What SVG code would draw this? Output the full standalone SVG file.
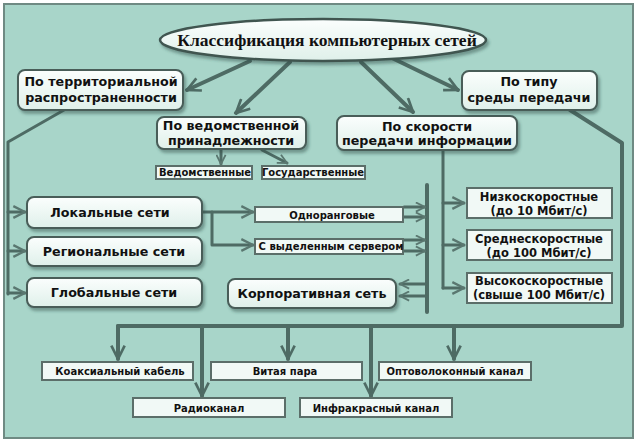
<svg xmlns="http://www.w3.org/2000/svg" width="639" height="444" viewBox="0 0 639 444">
<style>
.bg{fill:#a8d5c9;stroke:#6f8a83;stroke-width:2}
.rb{fill:url(#gf);stroke:#485d58;stroke-width:2;filter:url(#sh)}
.sb{fill:#f1f9f6;stroke:#5b6e69;stroke-width:2}
.t{font-family:"DejaVu Sans",Verdana,sans-serif;font-weight:bold;fill:#111;text-anchor:middle}
.t13{font-size:12.7px}
.t11{font-size:11.5px}
.t10{font-size:10px}
.ln{fill:none;stroke:#4e6b64;stroke-linecap:round;stroke-linejoin:round}
.w4{stroke-width:4}
.w3{stroke-width:3}
</style>
<defs>
<linearGradient id="gf" x1="0" y1="0" x2="0" y2="1">
<stop offset="0" stop-color="#fbfefd"/>
<stop offset="1" stop-color="#dff0ea"/>
</linearGradient>
<filter id="sh" x="-10%" y="-20%" width="120%" height="150%">
<feDropShadow dx="2" dy="3" stdDeviation="1.5" flood-color="#2f4a44" flood-opacity="0.45"/>
</filter>
<marker id="ab" viewBox="0 0 12 12" refX="11" refY="6" markerWidth="16" markerHeight="16" markerUnits="userSpaceOnUse" orient="auto">
<path d="M1,1 L11,6 L1,11" fill="none" stroke="#4e6b64" stroke-width="2"/>
</marker>
<marker id="am" viewBox="0 0 12 12" refX="11" refY="6" markerWidth="14" markerHeight="14" markerUnits="userSpaceOnUse" orient="auto">
<path d="M1,1 L11,6 L1,11" fill="none" stroke="#5a7770" stroke-width="2"/>
</marker>
<marker id="as" viewBox="0 0 12 12" refX="11" refY="6" markerWidth="11" markerHeight="11" markerUnits="userSpaceOnUse" orient="auto">
<path d="M1,1 L11,6 L1,11" fill="none" stroke="#5a7770" stroke-width="2"/>
</marker>
</defs>
<rect x="0" y="0" width="639" height="444" fill="#ffffff"/>
<rect class="bg" x="4" y="4" width="629" height="434"/>

<g id="connectors">
<path class="ln w4" d="M250,61 L187,90" marker-end="url(#ab)"/>
<path class="ln w4" d="M290,62 L236,113" marker-end="url(#ab)"/>
<path class="ln w4" d="M361,62 L413,112" marker-end="url(#ab)"/>
<path class="ln w4" d="M392,58 L458,90" marker-end="url(#ab)"/>
<path class="ln w3" d="M221,149 L221,164" marker-end="url(#as)"/>
<path class="ln w3" d="M262,150 L287,163" marker-end="url(#as)"/>
<path class="ln w3" d="M64,110 L8,142 L8,294"/>
<path class="ln w3" d="M8,212 L25,212" marker-end="url(#am)"/>
<path class="ln w3" d="M8,251 L25,251" marker-end="url(#am)"/>
<path class="ln w3" d="M8,293 L25,293" marker-end="url(#am)"/>
<path class="ln w3" d="M202,212 L253,212" marker-end="url(#am)"/>
<path class="ln w3" d="M212,212 L212,245 L253,245" marker-end="url(#am)"/>
<path class="ln w4" d="M427,185 L427,312"/>
<path class="ln w3" d="M404,207 L425,207" marker-end="url(#as)"/>
<path class="ln w3" d="M404,217 L425,217" marker-end="url(#as)"/>
<path class="ln w3" d="M404,240 L425,240" marker-end="url(#as)"/>
<path class="ln w3" d="M404,251 L425,251" marker-end="url(#as)"/>
<path class="ln w3" d="M426,284 L400,284" marker-end="url(#as)"/>
<path class="ln w3" d="M426,296 L400,296" marker-end="url(#as)"/>
<path class="ln w3" d="M443,150 L443,288"/>
<path class="ln w3" d="M443,203 L464,203" marker-end="url(#am)"/>
<path class="ln w3" d="M443,245 L464,245" marker-end="url(#am)"/>
<path class="ln w3" d="M443,288 L464,288" marker-end="url(#am)"/>
<path class="ln w4" d="M570,110 L622,143 L622,326 L118,326"/>
<path class="ln w4" d="M118,326 L118,359" marker-end="url(#ab)"/>
<path class="ln w4" d="M202,326 L202,396" marker-end="url(#ab)"/>
<path class="ln w4" d="M288,326 L288,359" marker-end="url(#ab)"/>
<path class="ln w4" d="M371,326 L371,396" marker-end="url(#ab)"/>
<path class="ln w4" d="M454,326 L454,359" marker-end="url(#ab)"/>
</g>

<g id="root">
<ellipse cx="323" cy="40" rx="163" ry="21" fill="url(#gf)" stroke="#3f5550" stroke-width="2.5" filter="url(#sh)"/>
<text x="327" y="46" font-family="'Liberation Serif',serif" font-weight="bold" font-size="17.5" text-anchor="middle" fill="#111">Классификация компьютерных сетей</text>
</g>
<g id="territorial">
<rect class="rb" x="18" y="70" width="165" height="40" rx="7"/>
<text class="t t13" x="101" y="86">По территориальной</text>
<text class="t t13" x="101" y="102">распространенности</text>
</g>
<g id="vedomst">
<rect class="rb" x="157" y="117" width="149" height="32" rx="7"/>
<text class="t t13" x="231" y="130">По ведомственной</text>
<text class="t t13" x="231" y="145">принадлежности</text>
</g>
<g id="skorost">
<rect class="rb" x="337" y="116" width="180" height="34" rx="7"/>
<text class="t t13" x="427" y="131">По скорости</text>
<text class="t t13" x="427" y="145">передачи информации</text>
</g>
<g id="tip">
<rect class="rb" x="462" y="71" width="135" height="39" rx="7"/>
<text class="t t13" x="529" y="86">По типу</text>
<text class="t t13" x="529" y="102">среды передачи</text>
</g>
<g id="vedomstvennye">
<rect class="sb" x="156" y="166" width="96" height="13"/>
<text class="t t10" x="205" y="176">Ведомственные</text>
</g>
<g id="gosudarstvennye">
<rect class="sb" x="262" y="166" width="103" height="13"/>
<text class="t t10" x="313" y="176">Государственные</text>
</g>
<g id="lokal">
<rect class="rb" x="27" y="197" width="175" height="31" rx="7"/>
<text class="t t13" x="110" y="217">Локальные сети</text>
</g>
<g id="region">
<rect class="rb" x="27" y="237" width="175" height="29" rx="7"/>
<text class="t t13" x="114" y="256">Региональные сети</text>
</g>
<g id="global">
<rect class="rb" x="27" y="278" width="175" height="29" rx="7"/>
<text class="t t13" x="114" y="297">Глобальные сети</text>
</g>
<g id="corporate">
<rect class="rb" x="228" y="279" width="168" height="29" rx="7"/>
<text class="t t13" x="312" y="298">Корпоративная сеть</text>
</g>
<g id="peer">
<rect class="sb" x="255" y="207" width="148" height="15"/>
<text class="t t10" x="332" y="219">Одноранговые</text>
</g>
<g id="server">
<rect class="sb" x="255" y="239" width="148" height="15"/>
<text class="t t10" x="331" y="250">С выделенным сервером</text>
</g>
<g id="low">
<rect class="sb" x="467" y="188" width="145" height="30"/>
<text class="t t11" x="539" y="201">Низкоскоростные</text>
<text class="t t11" x="539" y="215">(до 10 Мбит/с)</text>
</g>
<g id="mid">
<rect class="sb" x="467" y="230" width="145" height="30"/>
<text class="t t11" x="539" y="243">Среднескоростные</text>
<text class="t t11" x="539" y="257">(до 100 Мбит/с)</text>
</g>
<g id="high">
<rect class="sb" x="467" y="273" width="145" height="30"/>
<text class="t t11" x="539" y="285">Высокоскоростные</text>
<text class="t t11" x="539" y="299">(свыше 100 Мбит/с)</text>
</g>
<g id="coax">
<rect class="sb" x="42" y="362" width="151" height="18"/>
<text class="t t10" x="120" y="375">Коаксиальный кабель</text>
</g>
<g id="twisted">
<rect class="sb" x="211" y="362" width="151" height="18"/>
<text class="t t10" x="285" y="375">Витая пара</text>
</g>
<g id="optic">
<rect class="sb" x="379" y="362" width="152" height="18"/>
<text class="t t10" x="455" y="375">Оптоволоконный канал</text>
</g>
<g id="radio">
<rect class="sb" x="133" y="398" width="152" height="19"/>
<text class="t t10" x="209" y="412">Радиоканал</text>
</g>
<g id="infrared">
<rect class="sb" x="300" y="398" width="152" height="19"/>
<text class="t t10" x="376" y="412">Инфракрасный канал</text>
</g>
</svg>
